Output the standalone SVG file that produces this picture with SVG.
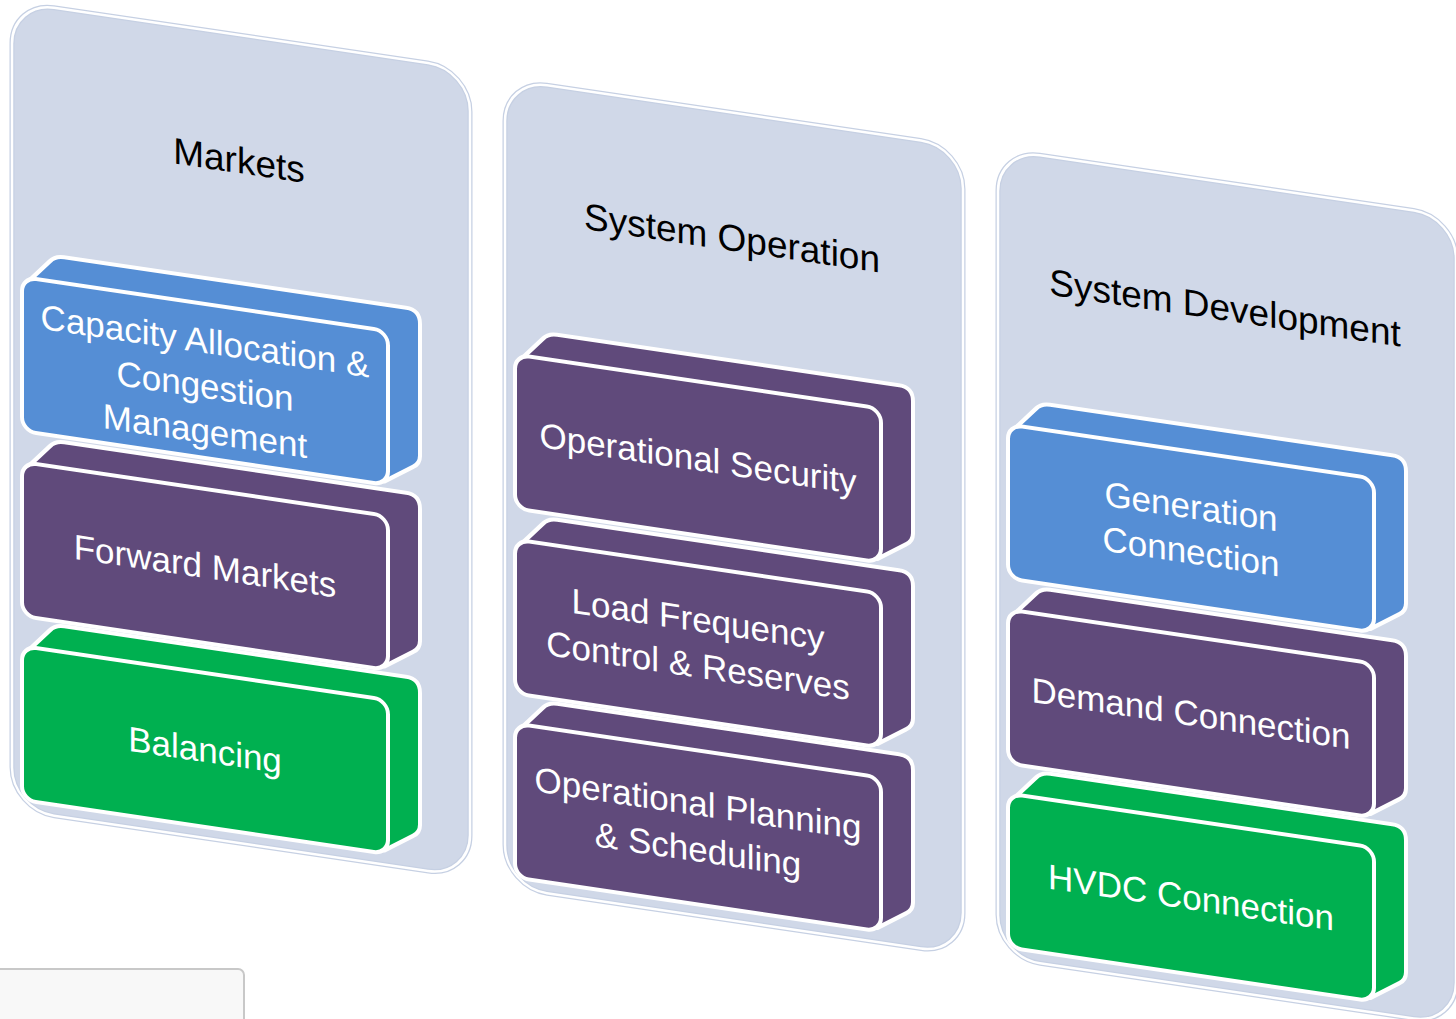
<svg xmlns="http://www.w3.org/2000/svg" xmlns:xlink="http://www.w3.org/1999/xlink" width="1456" height="1019" viewBox="0 0 1456 1019">
<style>
.cont-o{fill:#d0d8e8;stroke:#c6d0e3;stroke-width:5}
.cont-i{fill:none;stroke:#ffffff;stroke-width:2.5}
.box{stroke:#ffffff;stroke-width:4;stroke-linejoin:round}
.blue{fill:#558ed5}
.purple{fill:#604a7b}
.green{fill:#00b050}
.title{font-family:"Liberation Sans",Arial,sans-serif;font-size:37px;fill:#000000;text-anchor:middle}
.lbl{font-family:"Liberation Sans",Arial,sans-serif;font-size:35px;fill:#ffffff;text-anchor:middle}
</style>
<defs>
<path id="side" d="M14,148 L14,6 L38,-20 Q43,-26 52,-26 L394,-26 Q408,-26 408,-12 L408,120 Q408,128 401,132 L372,151 Z"/>
<rect id="face" x="10" y="0" width="366" height="154" rx="14"/>
<rect id="panel" x="0" y="0" width="458" height="808" rx="42"/>
</defs>
<rect x="0" y="0" width="1456" height="1019" fill="#ffffff"/>
<rect id="corner-panel" x="-10" y="969" width="254" height="70" rx="6" fill="#f8f8f8" stroke="#c8c8c8" stroke-width="2"/>
<g id="connectors"></g>

<g id="col-markets" transform="translate(12,1.5) skewY(8.42)">
  <use xlink:href="#panel" class="cont-o"/>
  <use xlink:href="#panel" class="cont-i"/>
  <text class="title" x="227" y="138">Markets</text>
  <g id="n-capacity" transform="translate(0,274)">
    <use xlink:href="#side" class="box blue"/>
    <use xlink:href="#face" class="box blue"/>
    <text class="lbl" x="193" y="49">Capacity Allocation &amp;</text>
    <text class="lbl" x="193" y="94">Congestion</text>
    <text class="lbl" x="193" y="139">Management</text>
  </g>
  <g id="n-forward" transform="translate(0,459)">
    <use xlink:href="#side" class="box purple"/>
    <use xlink:href="#face" class="box purple"/>
    <text class="lbl" x="193" y="89">Forward Markets</text>
  </g>
  <g id="n-balancing" transform="translate(0,643)">
    <use xlink:href="#side" class="box green"/>
    <use xlink:href="#face" class="box green"/>
    <text class="lbl" x="193" y="89">Balancing</text>
  </g>
</g>

<g id="col-sysop" transform="translate(505,79) skewY(8.42)">
  <use xlink:href="#panel" class="cont-o"/>
  <use xlink:href="#panel" class="cont-i"/>
  <text class="title" x="227" y="138">System Operation</text>
  <g id="n-opsec" transform="translate(0,274)">
    <use xlink:href="#side" class="box purple"/>
    <use xlink:href="#face" class="box purple"/>
    <text class="lbl" x="193" y="89">Operational Security</text>
  </g>
  <g id="n-lfc" transform="translate(0,459)">
    <use xlink:href="#side" class="box purple"/>
    <use xlink:href="#face" class="box purple"/>
    <text class="lbl" x="193" y="65">Load Frequency</text>
    <text class="lbl" x="193" y="111">Control &amp; Reserves</text>
  </g>
  <g id="n-opplan" transform="translate(0,643)">
    <use xlink:href="#side" class="box purple"/>
    <use xlink:href="#face" class="box purple"/>
    <text class="lbl" x="193" y="65">Operational Planning</text>
    <text class="lbl" x="193" y="111">&amp; Scheduling</text>
  </g>
</g>

<g id="col-sysdev" transform="translate(998,149) skewY(8.42)">
  <use xlink:href="#panel" class="cont-o"/>
  <use xlink:href="#panel" class="cont-i"/>
  <text class="title" x="227" y="138">System Development</text>
  <g id="n-gen" transform="translate(0,274)">
    <use xlink:href="#side" class="box blue"/>
    <use xlink:href="#face" class="box blue"/>
    <text class="lbl" x="193" y="67">Generation</text>
    <text class="lbl" x="193" y="112">Connection</text>
  </g>
  <g id="n-demand" transform="translate(0,459)">
    <use xlink:href="#side" class="box purple"/>
    <use xlink:href="#face" class="box purple"/>
    <text class="lbl" x="193" y="89">Demand Connection</text>
  </g>
  <g id="n-hvdc" transform="translate(0,643)">
    <use xlink:href="#side" class="box green"/>
    <use xlink:href="#face" class="box green"/>
    <text class="lbl" x="193" y="89">HVDC Connection</text>
  </g>
</g>
</svg>
